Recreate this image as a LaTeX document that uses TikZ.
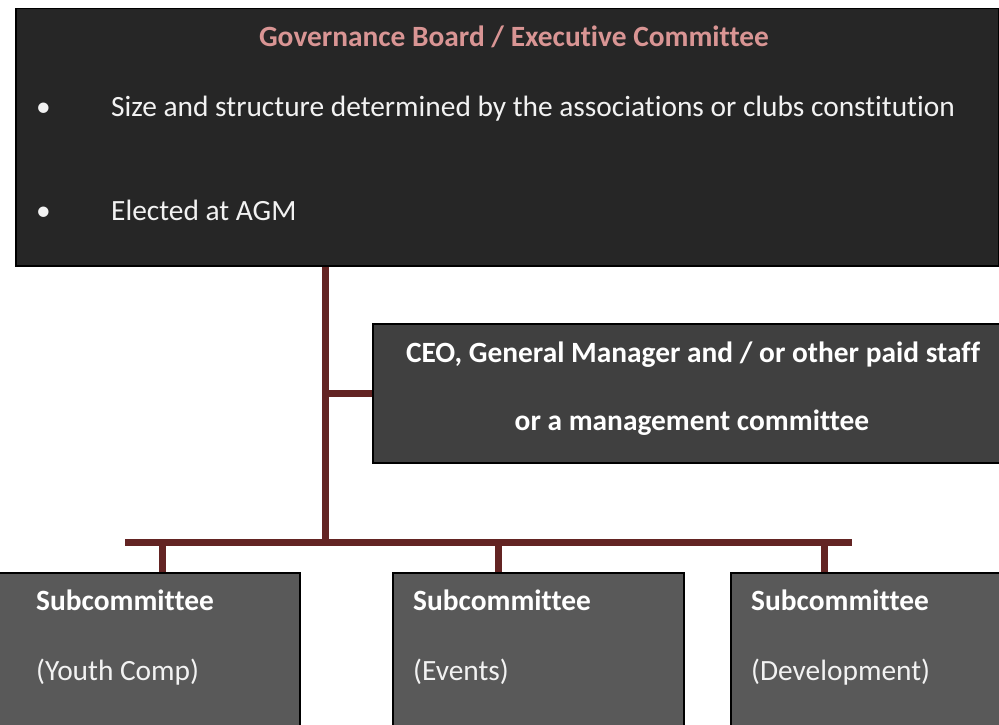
\documentclass[tikz,border=0pt]{standalone}
\usepackage{fontspec}
\setmainfont{Carlito}[RawFeature={-liga;-clig;-dlig;-calt}]
\usetikzlibrary{calc}
\definecolor{topfill}{HTML}{262626}
\definecolor{ceofill}{HTML}{404040}
\definecolor{subfill}{HTML}{595959}
\definecolor{pinktxt}{HTML}{D99594}
\definecolor{connred}{HTML}{632423}
\definecolor{txtw}{HTML}{F2F2F2}
\begin{document}
\begin{tikzpicture}[x=1pt,y=-1pt,
  box/.style={draw=black, line width=1.5pt, rectangle, inner sep=0pt, anchor=north west},
  txt/.style={inner sep=0pt, anchor=base west, text=txtw, font=\fontsize{29.4}{35}\selectfont},
  btxt/.style={txt, font=\fontsize{29.4}{35}\selectfont\bfseries, text=white},
  conn/.style={draw=connred, line width=7pt}]
\useasboundingbox (0,0) rectangle (999,725);
\fill[white] (0,0) rectangle (999,725);
% boxes
\node[box, fill=topfill, minimum width=983, minimum height=257] (gov) at (15,8) {};
\node[box, fill=ceofill, minimum width=627, minimum height=139] (ceo) at (372,323) {};
\node[box, fill=subfill, minimum width=304, minimum height=170] (sub1) at (-5,572) {};
\node[box, fill=subfill, minimum width=291, minimum height=170] (sub2) at (392,572) {};
\node[box, fill=subfill, minimum width=290, minimum height=170] (sub3) at (730,572) {};
% connectors
\coordinate (tr) at (325,542);
\coordinate (busL) at (125,542);
\coordinate (busR) at (852,542);
\draw[conn] (tr |- gov.south) -- (tr);
\draw[conn] (tr |- ceo.west) -- (ceo.west);
\draw[conn] (busL) -- (busR);
\coordinate (d1) at ($(sub1.north west)+(167,0)$);
\coordinate (d2) at ($(sub2.north west)+(106,0)$);
\coordinate (d3) at ($(sub3.north west)+(94,0)$);
\draw[conn] (d1 |- busL) -- (d1);
\draw[conn] (d2 |- busL) -- (d2);
\draw[conn] (d3 |- busL) -- (d3);
% texts
\node[btxt, anchor=base, text=pinktxt] (title) at (514,47) {Governance Board / Executive Committee};
\node[txt] (b1) at (36,117) {•};
\node[txt] (l1) at (111,117) {Size and structure determined by the associations or clubs constitution};
\node[txt] (b2) at (36,220) {•};
\node[txt] (l2) at (111,220) {Elected at AGM};
\node[btxt, anchor=base] (c1) at (693,362) {CEO, General Manager and / or other paid staff};
\node[btxt, anchor=base] (c2) at (692,430) {or a management committee};
\node[btxt] (s1a) at (36,610) {Subcommittee};
\node[txt] (s1b) at (36,680) {(Youth Comp)};
\node[btxt] (s2a) at (413,610) {Subcommittee};
\node[txt] (s2b) at (413,680) {(Events)};
\node[btxt] (s3a) at (751,610) {Subcommittee};
\node[txt] (s3b) at (751,680) {(Development)};
\end{tikzpicture}
\end{document}
